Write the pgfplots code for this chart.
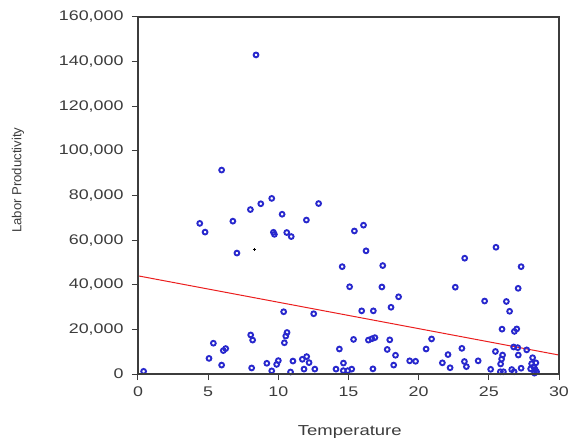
\documentclass[border=0pt]{standalone}
\usepackage{fontspec}
\setmainfont{Liberation Sans}[FakeStretch=1.28]
\newfontfamily\labelfont{Liberation Sans}
\usepackage{pgfplots}
\pgfplotsset{compat=1.18}
\definecolor{ptblue}{RGB}{40,40,205}
\definecolor{fitred}{RGB}{235,30,30}
\definecolor{framegray}{RGB}{60,60,60}

\pgfplotstableread{
T V
8.41 143000
5.96 91400
4.40 67500
4.78 63600
6.76 68500
7.05 54200
8.01 73700
8.75 76300
9.53 78700
9.65 63500
9.72 62600
10.27 71600
10.60 63400
10.92 61600
12.00 69000
12.87 76400
0.40 1200
5.37 13800
5.06 7000
5.96 4000
6.08 10500
6.25 11400
8.10 2700
8.03 17500
8.17 15200
9.18 4800
9.53 1400
9.88 4300
10.00 6000
10.38 27900
10.43 14000
10.53 17000
10.62 18600
10.87 900
11.04 5800
11.71 6600
12.02 7800
12.19 5100
11.83 2200
12.52 27000
12.60 2200
14.11 2200
14.35 11200
14.55 48100
14.64 4900
14.63 1500
14.95 1500
15.23 2200
15.08 39100
15.42 64100
16.07 66700
16.25 55200
17.44 48600
17.38 39000
18.57 34600
18.03 29900
15.94 28300
16.77 28300
15.36 15500
16.42 15200
16.67 15800
16.88 16300
17.94 15300
17.76 11000
18.35 8400
18.22 4000
16.74 2300
19.36 5900
19.78 5700
20.53 11200
20.92 15700
21.69 5000
22.09 8700
22.24 2800
22.61 38900
23.28 51900
23.08 11500
23.26 5600
23.40 3300
24.24 5900
24.70 32700
25.51 56800
26.25 32500
26.48 28100
27.09 38400
27.30 48100
25.94 20100
26.82 19100
26.99 20200
25.47 10100
25.98 8500
25.91 6700
25.84 4500
26.77 12100
27.06 11800
27.10 8500
27.70 10800
28.12 7300
25.13 2100
25.82 1000
26.04 1000
26.63 2000
26.80 1000
27.30 2600
28.05 4600
28.20 3200
28.30 2000
28.40 1000
28.25 400
27.98 2300
28.35 5000
}\prodtable

\begin{document}
\begin{tikzpicture}
\begin{axis}[
  scale only axis,
  width=421bp, height=357bp,
  xmin=0, xmax=30, ymin=0, ymax=160000,
  xtick={0,5,...,30},
  ytick={0,20000,...,160000},
  scaled y ticks=false,
  tick pos=left, tick align=outside,
  major tick length=6bp,
  axis line style={line width=1.3bp, framegray},
  tick style={framegray, line width=1bp},
  ticklabel style={font=\fontsize{14}{16}\selectfont, text=framegray},
  yticklabel style={xshift=-5bp,
    /pgf/number format/.cd, fixed, 1000 sep={,}, assume math mode=true},
  xticklabel style={yshift=-3bp,
    /pgf/number format/.cd, assume math mode=true},
  xlabel={Temperature},
  every axis x label/.style={font=\fontsize{14.5}{16}\selectfont,
    text=framegray, at={(axis description cs:0.503,0)},
    anchor=center, yshift=-58bp},
  ylabel={Labor Productivity},
  every axis y label/.style={font=\labelfont\fontsize{13.2}{15}\selectfont,
    text=framegray, at={(axis description cs:-0.285,0.543)},
    rotate=90, anchor=center},
  clip=false,
]
\addplot[only marks, mark=o, mark size=2.4bp, ptblue,
  mark options={line width=1.9bp}] table[x=T, y=V] {\prodtable};
\addplot[only marks, mark=+, mark size=1.5bp, black] coordinates {(8.29,55900)};
\addplot[fitred, line width=1bp] coordinates {(0,44000) (30,8500)};
\end{axis}
% frame as four thin filled bands (stroked frame did not show in the preview)
\fill[framegray]
  ([xshift=-0.7bp,yshift=-0.7bp]current axis.south west) --
  ([xshift=0.7bp,yshift=-0.7bp]current axis.south east) --
  ([xshift=0.7bp,yshift=0.6bp]current axis.south east) --
  ([xshift=-0.7bp,yshift=0.6bp]current axis.south west) -- cycle;
\fill[framegray]
  ([xshift=-0.7bp,yshift=-0.6bp]current axis.north west) --
  ([xshift=0.7bp,yshift=-0.6bp]current axis.north east) --
  ([xshift=0.7bp,yshift=0.7bp]current axis.north east) --
  ([xshift=-0.7bp,yshift=0.7bp]current axis.north west) -- cycle;
\fill[framegray]
  ([xshift=-0.7bp,yshift=-0.7bp]current axis.south west) --
  ([xshift=0.6bp,yshift=-0.7bp]current axis.south west) --
  ([xshift=0.6bp,yshift=0.7bp]current axis.north west) --
  ([xshift=-0.7bp,yshift=0.7bp]current axis.north west) -- cycle;
\fill[framegray]
  ([xshift=-0.6bp,yshift=-0.7bp]current axis.south east) --
  ([xshift=0.7bp,yshift=-0.7bp]current axis.south east) --
  ([xshift=0.7bp,yshift=0.7bp]current axis.north east) --
  ([xshift=-0.6bp,yshift=0.7bp]current axis.north east) -- cycle;
\pgfresetboundingbox
\path[use as bounding box] ([xshift=-138bp,yshift=-70bp]current axis.south west)
  rectangle ([xshift=9bp,yshift=17bp]current axis.north east);
\end{tikzpicture}
\end{document}
